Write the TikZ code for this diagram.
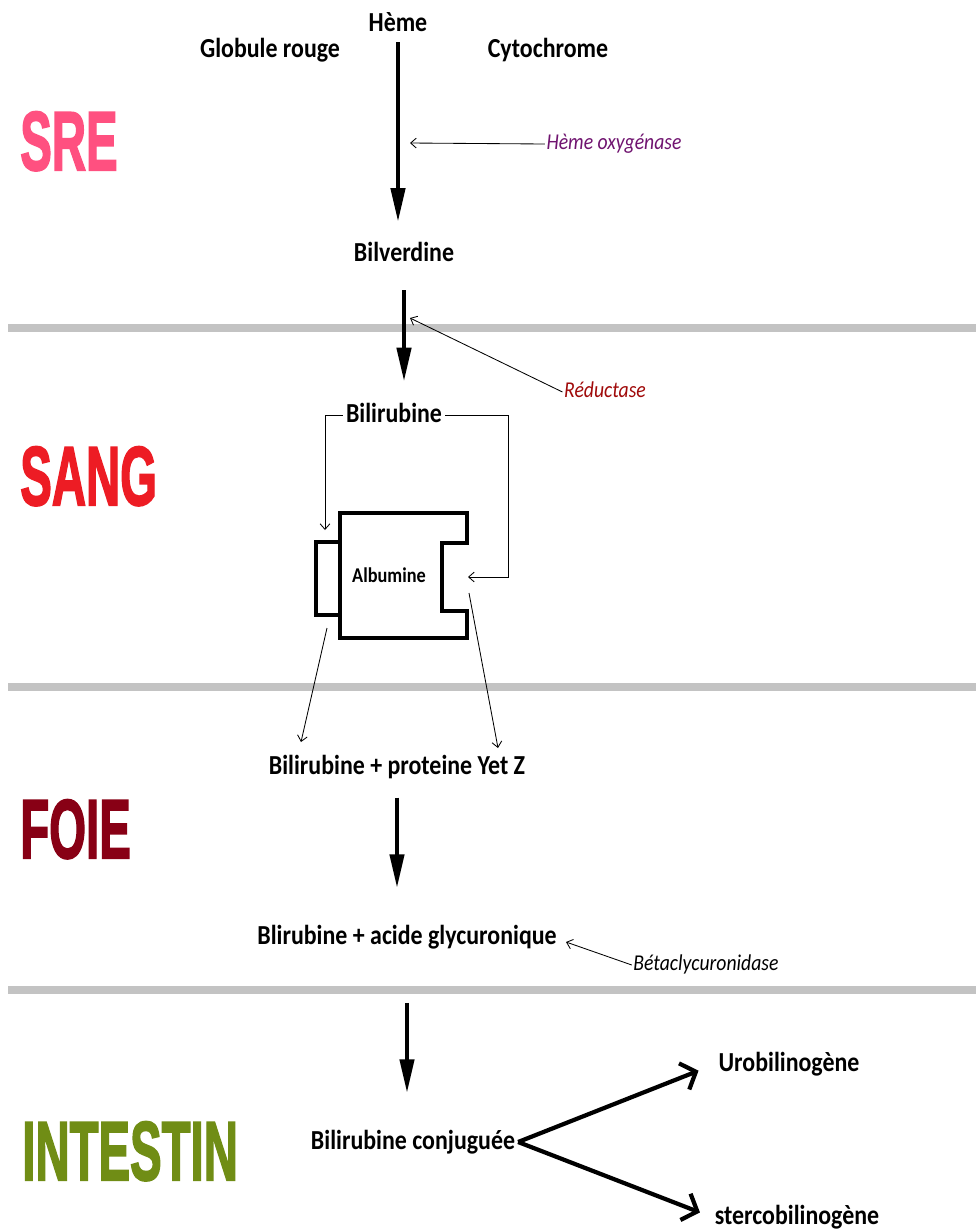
\documentclass[tikz,border=0pt]{standalone}
\usepackage{fontspec}
\newfontfamily\carlito{Carlito}
\newfontfamily\zonefont[FakeBold=2.5]{Liberation Sans Bold}
\usetikzlibrary{arrows.meta}
\definecolor{bandgray}{RGB}{195,195,195}
\definecolor{srepink}{RGB}{255,80,128}
\definecolor{sangred}{RGB}{237,28,36}
\definecolor{foiered}{RGB}{136,0,21}
\definecolor{intgreen}{RGB}{112,141,21}
\definecolor{oxypurple}{RGB}{112,20,112}
\definecolor{redred}{RGB}{160,10,10}

\begin{document}
\begin{tikzpicture}[
  x=0.025cm,y=-0.025cm,
  lbl/.style={font=\carlito\bfseries\fontsize{17}{20}\selectfont,inner xsep=2pt,inner ysep=0pt,
    text height=12pt,text depth=3pt,yscale=1.15,transform shape},
  enz/.style={font=\carlito\itshape\fontsize{14}{17}\selectfont,inner xsep=1pt,inner ysep=0pt,
    text height=10pt,text depth=3pt,yscale=1.15,transform shape},
  zone/.style={font=\zonefont\fontsize{33}{36}\selectfont,anchor=base west,inner sep=0pt,
    xscale=1.02,yscale=1.8,transform shape},
  band/.style={line width=5.7pt,draw=bandgray},
  main/.style={line width=3pt,-{Triangle[length=24pt,width=10pt]}},
  enzarr/.style={line width=0.6pt,-{Straight Barb[length=4pt,width=7pt]}},
  fork/.style={line width=3pt,-{Straight Barb[length=9pt,width=20pt]}},
  albbox/.style={line width=2.6pt,line join=miter}
]
\fill[white] (0,0) rectangle (976,1232);
\useasboundingbox (0,0) rectangle (976,1232);

\draw[band] (8,328) -- (976,328);
\draw[band] (8,687) -- (976,687);
\draw[band] (8,990) -- (976,990);

\node[zone,text=srepink] (sre) at (20,170) {SRE};
\node[zone,text=sangred] (sang) at (20,505) {SANG};
\node[zone,text=foiered] (foie) at (20,858) {FOIE};
\node[zone,text=intgreen] (intestin) at (22,1180) {INTESTIN};

\node[lbl] (heme) at (398,24) {Hème};
\node[lbl] (glob) at (270,50) {Globule rouge};
\node[lbl] (cyto) at (548,50) {Cytochrome};
\node[enz,text=oxypurple] (oxy) at (614,144) {Hème oxygénase};
\node[lbl] (bilv) at (404,254) {Bilverdine};
\node[enz,text=redred] (red) at (605,392) {Réductase};
\node[lbl] (bili) at (394,415) {Bilirubine};
\node[lbl,font=\carlito\bfseries\fontsize{13}{16}\selectfont] (alb) at (389,575) {Albumine};
\node[lbl] (prot) at (397,767) {Bilirubine + proteine Yet Z};
\node[lbl] (glyc) at (407,937) {Blirubine + acide glycuronique};
\node[enz] (beta) at (706,965) {Bétaclycuronidase};
\node[lbl] (conj) at (413,1142) {Bilirubine conjuguée};
\node[lbl] (uro) at (789,1064) {Urobilinogène};
\node[lbl] (sterco) at (797,1217) {stercobilinogène};

\coordinate (kOxy) at (410,143);
\coordinate (kRed) at (410,318);
\coordinate (kBeta) at (566,942);
\coordinate (albL) at (325,530);
\coordinate (albRb) at (508,577);
\coordinate (albR) at (468,577);
\coordinate (outL) at (327,628);
\coordinate (inL) at (301,742);
\coordinate (outR) at (469,593);
\coordinate (inR) at (498,748);

\draw[albbox] (340,513) -- (467,513) -- (467,543) -- (442,543) -- (442,611)
  -- (467,611) -- (467,638) -- (340,638) -- cycle;
\draw[albbox] (316,542) rectangle (340,615);

\draw[main,shorten <=4pt,shorten >=14pt] (heme.south) -- (heme.south |- bilv.north);
\draw[main,shorten <=17pt,shorten >=15pt] (bilv.south) -- (bilv.south |- bili.north);
\draw[main,shorten <=13pt,shorten >=26pt] (prot.south) -- (prot.south |- glyc.north);
\draw[main,shorten <=38pt,shorten >=26pt] (glyc.south) -- (glyc.south |- conj.north);

\draw[enzarr] (oxy.west) -- (kOxy);
\draw[enzarr] (red.west) -- (kRed);
\draw[enzarr] (beta.west) -- (kBeta);

\draw[enzarr] (bili.west) -| (albL);
\draw[enzarr] (bili.east) -| (albRb) -- (albR);
\draw[enzarr] (outL) -- (inL);
\draw[enzarr] (outR) -- (inR);

\draw[fork,shorten >=13pt] (conj.east) -- (uro.west);
\draw[fork,shorten >=9pt] (conj.east) -- (sterco.west);
\end{tikzpicture}
\end{document}
